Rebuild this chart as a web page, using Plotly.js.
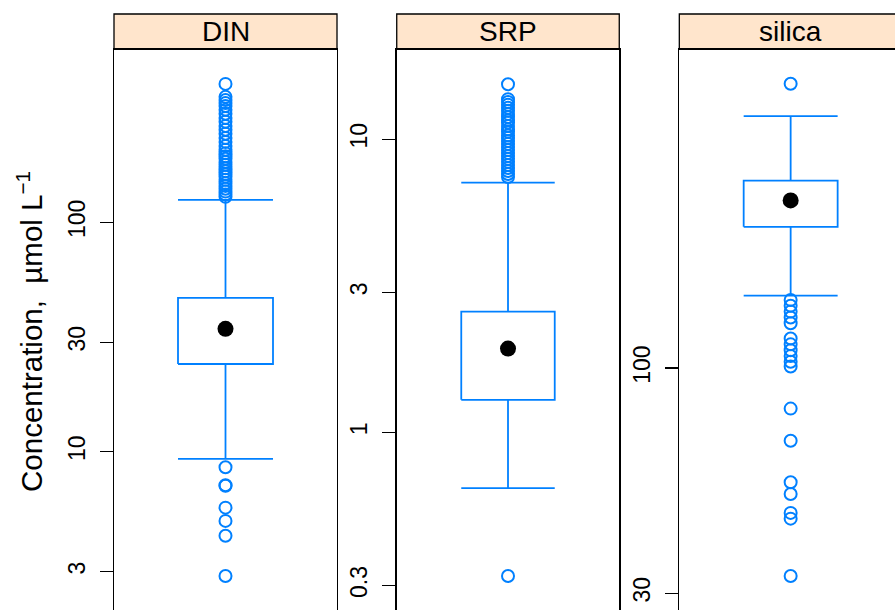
<!DOCTYPE html>
<html>
<head>
<meta charset="utf-8">
<script src="https://cdn.plot.ly/plotly-3.0.1.min.js"></script>
<style>
html,body{margin:0;padding:0;overflow:hidden;background:#fff;}
#chart{width:910px;height:630px;}
</style>
</head>
<body>
<div id="chart"></div>
<script>
// ---- data ----
const panels = ["DIN", "SRP", "silica"];
const lowerWhisker = [9.29, 0.644, 147.2];
const q1 = [24.1, 1.29, 212.7];
const median = [34.3, 1.93, 244.9];
const q3 = [46.8, 2.58, 272.3];
const upperWhisker = [125.1, 7.11, 384.6];

const outliersDIN = [401, 352, 341, 331, 321, 309, 297, 285, 274, 263, 253, 243, 233, 224, 215,
  207, 200, 194, 189, 183, 178, 172, 167, 162, 158, 153, 148, 144, 140, 136, 132, 129,
  8.55, 7.14, 7.10, 5.70, 4.99, 4.30, 2.87];
const outliersSRP = [15.4, 13.7, 13.4, 13.1, 12.8, 12.5, 12.2, 11.9, 11.6, 11.4, 11.1, 10.8,
  10.6, 10.3, 10.1, 9.87, 9.64, 9.41, 9.19, 8.98, 8.77, 8.57, 8.37, 8.17, 7.98, 7.79, 7.61, 7.43,
  0.323];
const outliersSilica = [457, 143.9, 139.5, 135.2, 131.0, 127.0, 117.1, 113.5, 110.0, 106.6,
  103.4, 100.8, 80.5, 67.8, 54.3, 51.0, 46.1, 44.7, 32.9];
const outliers = [outliersDIN, outliersSRP, outliersSilica];

const tickVals = [[3, 10, 30, 100], [0.3, 1, 3, 10], [30, 100]];
const tickText = [["3", "10", "30", "100"], ["0.3", "1", "3", "10"], ["30", "100"]];
const yRanges = [[0.266, 2.754], [-0.641, 1.307], [1.415, 2.740]];

// ---- layout / style ----
const blue = "#0080ff";
const stripFill = "#ffe5cc";
const xDomains = [[0, 0.2830], [0.3588, 0.6412], [0.7174, 1.0]];
const yTop = 0.9418;
const halfW = [0.213, 0.21, 0.211];
const fontFam = "Liberation Sans, Arial, Helvetica, sans-serif";

const traces = [];
const layout = {
  width: 910, height: 630,
  margin: {l: 114, r: 8, t: 14, b: 10},
  paper_bgcolor: "#fff", plot_bgcolor: "#fff",
  showlegend: false,
  font: {family: fontFam, color: "#000"},
  shapes: [], annotations: []
};

panels.forEach((name, i) => {
  const xa = i === 0 ? "x" : "x" + (i + 1);
  const ya = i === 0 ? "y" : "y" + (i + 1);
  const w = halfW[i];
  // box
  traces.push({
    type: "scatter", mode: "lines", xaxis: xa, yaxis: ya, hoverinfo: "skip",
    x: [-w, w, w, -w, -w],
    y: [q1[i], q1[i], q3[i], q3[i], q1[i]],
    line: {color: blue, width: 1.8}
  });
  // whiskers + caps
  traces.push({
    type: "scatter", mode: "lines", xaxis: xa, yaxis: ya, hoverinfo: "skip",
    x: [0, 0, null, 0, 0, null, -w, w, null, -w, w],
    y: [q3[i], upperWhisker[i], null, q1[i], lowerWhisker[i], null,
        upperWhisker[i], upperWhisker[i], null, lowerWhisker[i], lowerWhisker[i]],
    line: {color: blue, width: 1.8}, connectgaps: false
  });
  // outliers
  traces.push({
    type: "scatter", mode: "markers", xaxis: xa, yaxis: ya,
    x: outliers[i].map(() => 0), y: outliers[i],
    marker: {symbol: "circle-open", size: 12, color: blue, line: {width: 2, color: blue}}
  });
  // median dot
  traces.push({
    type: "scatter", mode: "markers", xaxis: xa, yaxis: ya,
    x: [0], y: [median[i]],
    marker: {symbol: "circle", size: 16, color: "#000"}
  });

  const xKey = i === 0 ? "xaxis" : "xaxis" + (i + 1);
  const yKey = i === 0 ? "yaxis" : "yaxis" + (i + 1);
  layout[xKey] = {
    domain: xDomains[i], range: [-0.5, 0.5], anchor: ya,
    showgrid: false, zeroline: false, showticklabels: false, ticks: "",
    showline: true, mirror: true, linecolor: "#000", linewidth: 1.3, fixedrange: true
  };
  layout[yKey] = {
    domain: [0, yTop], type: "log", range: yRanges[i], anchor: xa,
    tickmode: "array", tickvals: tickVals[i], ticktext: tickText[i],
    tickangle: -90, ticks: "outside", ticklen: 13, tickwidth: 1.3, tickcolor: "#000",
    ticklabelstandoff: 6,
    tickfont: {size: 23, family: fontFam, color: "#000"},
    showgrid: false, zeroline: false,
    showline: true, mirror: true, linecolor: "#000", linewidth: 1.3, fixedrange: true
  };
  // strip
  layout.shapes.push({
    type: "rect", xref: "paper", yref: "paper",
    x0: xDomains[i][0], x1: xDomains[i][1], y0: yTop, y1: 1,
    fillcolor: stripFill, line: {color: "#000", width: 1.3}, layer: "below"
  });
  layout.annotations.push({
    xref: "paper", yref: "paper", x: (xDomains[i][0] + xDomains[i][1]) / 2, y: (yTop + 1) / 2,
    xanchor: "center", yanchor: "middle", showarrow: false,
    text: name, font: {size: 28, family: fontFam, color: "#000"}
  });
});

layout.annotations.push({
  xref: "paper", yref: "paper", x: -0.1066, y: 0.477,
  xanchor: "center", yanchor: "middle", showarrow: false, textangle: -90,
  text: "Concentration,\u00a0 \u00b5mol L<sup>\u22121</sup>",
  font: {size: 29.5, family: fontFam, color: "#000"}
});

Plotly.newPlot("chart", traces, layout, {staticPlot: true, displayModeBar: false});
</script>
</body>
</html>
